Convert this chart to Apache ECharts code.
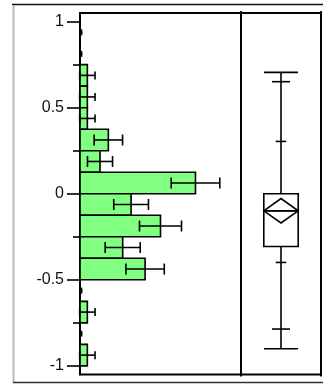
<!DOCTYPE html>
<html><head><meta charset="utf-8">
<script src="https://cdn.jsdelivr.net/npm/echarts@6/dist/echarts.min.js"></script>
<style>html,body{margin:0;padding:0;background:#fff}#c{width:323px;height:384px}</style>
</head><body><div id="c"></div>
<script>
// Histogram bins (start of each bin, bin width), bar lengths and standard-error half widths
const binStarts = [0.875, 0.75, 0.625, 0.5, 0.375, 0.25, 0.125, 0, -0.125, -0.25, -0.375, -0.5, -0.625, -0.75, -0.875, -1];
const binWidth = 0.125;
const binCounts = [0, 0, 1.05, 1.05, 1.05, 4.05, 2.86, 16.5, 7.3, 11.5, 6.1, 9.3, 0, 1.05, 0, 1.05];
const binStdErr = [0, 0, 1.1, 1.1, 1.1, 2.03, 1.79, 3.47, 2.48, 3.0, 2.5, 2.74, 0, 1.1, 0, 1.1];
// Axis ticks
const yTickValues = [-1, -0.5, 0, 0.5, 1];
const yMinorTickValues = [-0.75, -0.25, 0.25, 0.75];
// Box plot quantiles
const quantileLevels = ['99.5%', '97.5%', '90%', '75%', '50%', '25%', '10%', '2.5%', '0.5%'];
const quantileValues = [0.705, 0.651, 0.304, 0.0, -0.1, -0.306, -0.399, -0.786, -0.900];
const meanValue = -0.099;
const meanCI = [-0.170, -0.028];

const Y_MIN = -1.05, Y_MAX = 1.05, X_MAX = 23;
const chart = echarts.init(document.getElementById('c'), null, {renderer: 'canvas'});

const histData = binStarts.map((s, i) => [s, s + binWidth, binCounts[i], binStdErr[i]]);
const boxData = [[0.5].concat(quantileValues, [meanValue], meanCI)];

const lineStyle = {stroke: '#000', lineWidth: 1.6};

chart.setOption({
  animation: false,
  grid: [
    {left: 80, top: 13, width: 161, height: 361.5, show: true, borderColor: '#000', borderWidth: 1.8, backgroundColor: 'transparent'},
    {left: 241, top: 13, width: 80, height: 361.5, show: true, borderColor: '#000', borderWidth: 1.8, backgroundColor: 'transparent'}
  ],
  xAxis: [
    {gridIndex: 0, type: 'value', min: 0, max: X_MAX, show: false, splitLine: {show: false}},
    {gridIndex: 1, type: 'value', min: 0, max: 1, show: false, splitLine: {show: false}}
  ],
  yAxis: [
    {gridIndex: 0, type: 'value', position: 'left', min: Y_MIN, max: Y_MAX,
      axisLine: {show: true, lineStyle: {color: '#000', width: 1.8}},
      axisTick: {show: true, customValues: yTickValues, length: 13, lineStyle: {color: '#000', width: 1.6}},
      axisLabel: {show: true, customValues: yTickValues, margin: 16, fontSize: 16, fontFamily: 'Liberation Sans', color: '#111'},
      splitLine: {show: false}},
    {gridIndex: 0, type: 'value', position: 'left', offset: 0, min: Y_MIN, max: Y_MAX,
      axisLine: {show: false},
      axisTick: {show: true, customValues: yMinorTickValues, length: 7, lineStyle: {color: '#000', width: 1.6}},
      axisLabel: {show: false},
      splitLine: {show: false}},
    {gridIndex: 1, type: 'value', min: Y_MIN, max: Y_MAX, show: false, splitLine: {show: false}}
  ],
  series: [
    {
      type: 'custom', xAxisIndex: 0, yAxisIndex: 0, data: histData,
      encode: {x: 2, y: [0, 1]},
      renderItem: function (params, api) {
        const lo = api.value(0), hi = api.value(1), c = api.value(2);
        if (!(c > 0)) return null;
        const p0 = api.coord([0, hi]), p1 = api.coord([c, lo]);
        return {type: 'rect', shape: {x: p0[0], y: p0[1], width: p1[0] - p0[0], height: p1[1] - p0[1]},
          style: {fill: '#80FF80', stroke: '#000', lineWidth: 1.6}};
      }
    },
    {
      type: 'custom', xAxisIndex: 0, yAxisIndex: 0, data: histData,
      encode: {x: 2, y: [0, 1]}, z: 3,
      renderItem: function (params, api) {
        const lo = api.value(0), hi = api.value(1), c = api.value(2), se = api.value(3);
        const mid = (lo + hi) / 2;
        if (!(se > 0)) {
          const p = api.coord([0, mid]);
          return {type: 'group', children: [
            {type: 'line', shape: {x1: p[0] + 1.5, y1: p[1] - 3, x2: p[0] + 1.5, y2: p[1] + 3}, style: lineStyle},
            {type: 'line', shape: {x1: p[0], y1: p[1], x2: p[0] + 2.5, y2: p[1]}, style: lineStyle}
          ]};
        }
        const a = api.coord([c - se, mid]), b = api.coord([c + se, mid]);
        const h = c > 2 ? 5.5 : 4;
        return {type: 'group', children: [
          {type: 'line', shape: {x1: a[0], y1: a[1], x2: b[0], y2: b[1]}, style: lineStyle},
          {type: 'line', shape: {x1: a[0], y1: a[1] - h, x2: a[0], y2: a[1] + h}, style: lineStyle},
          {type: 'line', shape: {x1: b[0], y1: b[1] - h, x2: b[0], y2: b[1] + h}, style: lineStyle}
        ]};
      }
    },
    {
      type: 'custom', xAxisIndex: 1, yAxisIndex: 2, data: boxData,
      encode: {x: 0, y: [1, 9]},
      renderItem: function (params, api) {
        const cx = api.value(0);
        const q = [];
        for (let i = 1; i <= 9; i++) q.push(api.coord([cx, api.value(i)]));
        const mean = api.coord([cx, api.value(10)]);
        const ciLo = api.coord([cx, api.value(11)]);
        const ciHi = api.coord([cx, api.value(12)]);
        const x = q[0][0];
        const halfW = [17, 9, 5.3];
        const bw = 17.2;
        const ch = [];
        ch.push({type: 'line', shape: {x1: x, y1: q[0][1], x2: x, y2: q[8][1]}, style: lineStyle});
        const tickIdx = [[0, 0], [1, 1], [2, 2], [6, 2], [7, 1], [8, 0]];
        tickIdx.forEach(function (t) {
          const p = q[t[0]], w = halfW[t[1]];
          ch.push({type: 'line', shape: {x1: x - w, y1: p[1], x2: x + w, y2: p[1]}, style: lineStyle});
        });
        ch.push({type: 'rect', shape: {x: x - bw, y: q[3][1], width: 2 * bw, height: q[5][1] - q[3][1]},
          style: {fill: '#fff', stroke: '#000', lineWidth: 1.6}});
        ch.push({type: 'line', shape: {x1: x - bw, y1: q[4][1], x2: x + bw, y2: q[4][1]}, style: lineStyle});
        ch.push({type: 'line', shape: {x1: x - bw, y1: mean[1], x2: x + bw, y2: mean[1]}, style: lineStyle});
        ch.push({type: 'polygon', shape: {points: [[x - bw, mean[1]], [x, ciHi[1]], [x + bw, mean[1]], [x, ciLo[1]]]},
          style: {fill: 'none', stroke: '#000', lineWidth: 1.6}});
        return {type: 'group', children: ch};
      }
    }
  ],
  graphic: [
    {type: 'line', shape: {x1: 12, y1: 4.5, x2: 323, y2: 4.5}, style: {stroke: '#111', lineWidth: 1.5}},
    {type: 'line', shape: {x1: 13.5, y1: 5, x2: 13.5, y2: 383}, style: {stroke: '#bbb', lineWidth: 2}},
    {type: 'line', shape: {x1: 13, y1: 382.5, x2: 323, y2: 382.5}, style: {stroke: '#333', lineWidth: 1.5}},
    {type: 'line', shape: {x1: 241, y1: 11, x2: 241, y2: 376.5}, style: {stroke: '#000', lineWidth: 1.8}},
    {type: 'line', shape: {x1: 321, y1: 11, x2: 321, y2: 376.5}, style: {stroke: '#000', lineWidth: 1.8}}
  ]
});
</script>
</body></html>
